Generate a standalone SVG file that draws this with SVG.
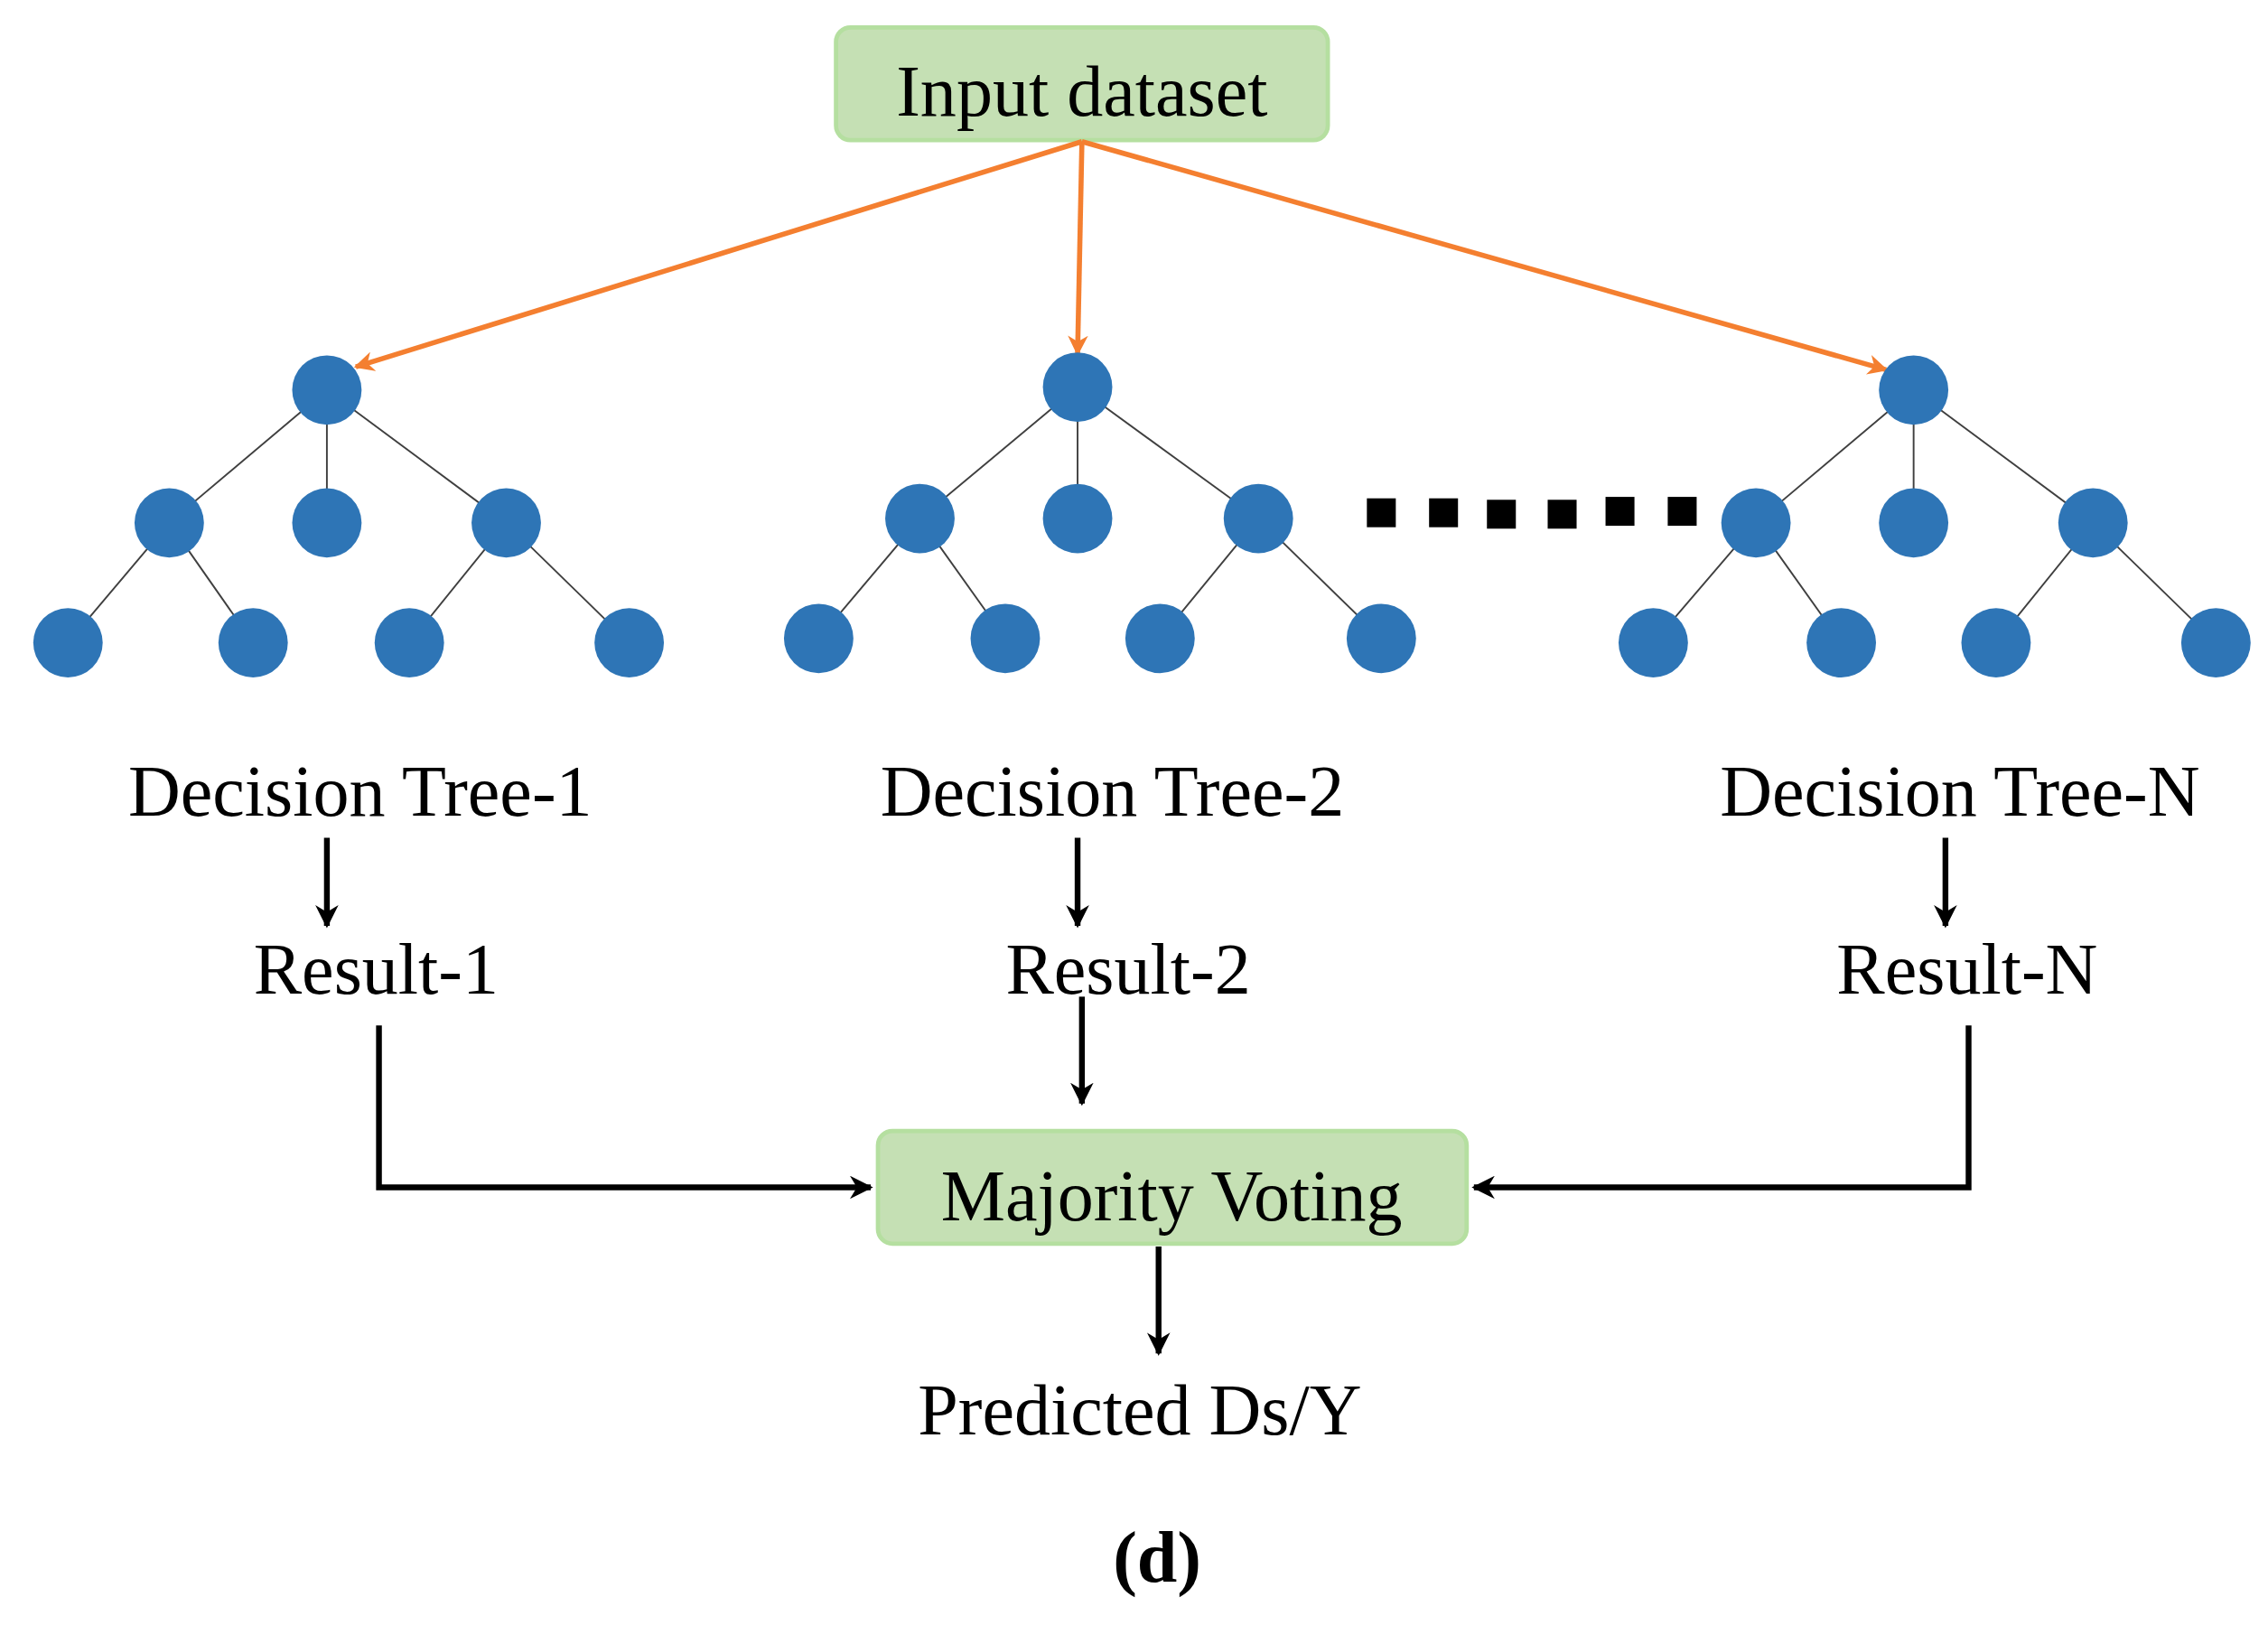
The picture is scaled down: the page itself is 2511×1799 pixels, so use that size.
<svg xmlns="http://www.w3.org/2000/svg" width="2511" height="1799" viewBox="0 0 2511 1799">
<style>
.t{font-family:"Liberation Serif","Times New Roman",serif;font-size:50px;fill:#000;text-anchor:middle}
.box{fill:#c5e0b4;stroke:#b5dfa0;stroke-width:3}
.n{fill:#2e75b6}
.e{stroke:#404040;stroke-width:1.2;fill:none}
.o{stroke:#f47f30;stroke-width:3.5;fill:none}
.k{stroke:#000;stroke-width:4;fill:none}
</style>
<defs>
<marker id="ao" viewBox="0 0 10 10" refX="9" refY="5" markerWidth="4" markerHeight="4" orient="auto"><path d="M0,0L10,5L0,10L3,5z" fill="#f47f30"/></marker>
<marker id="ak" viewBox="0 0 10 10" refX="9" refY="5" markerWidth="4" markerHeight="4" orient="auto"><path d="M0,0L10,5L0,10L3,5z" fill="#000"/></marker>
</defs>
<rect width="2511" height="1799" fill="#fff"/>
<g transform="scale(1.6014 1.5991)">
<g id="input"><rect class="box" x="578" y="19" width="340" height="78" rx="10"/><text class="t" x="748" y="80">Input dataset</text></g>
<g id="connectors">
<line class="o" x1="748" y1="98" x2="246" y2="254" marker-end="url(#ao)"/>
<line class="o" x1="748" y1="98" x2="745" y2="245" marker-end="url(#ao)"/>
<line class="o" x1="748" y1="98" x2="1304" y2="256" marker-end="url(#ao)"/>
<line class="k" x1="226" y1="580" x2="226" y2="641" marker-end="url(#ak)"/>
<line class="k" x1="745" y1="580" x2="745" y2="641" marker-end="url(#ak)"/>
<line class="k" x1="1345" y1="580" x2="1345" y2="641" marker-end="url(#ak)"/>
<line class="k" x1="748" y1="690" x2="748" y2="764" marker-end="url(#ak)"/>
<polyline class="k" points="262,710 262,822 602,822" marker-end="url(#ak)"/>
<polyline class="k" points="1361,710 1361,822 1019,822" marker-end="url(#ak)"/>
<line class="k" x1="801" y1="863" x2="801" y2="937" marker-end="url(#ak)"/>
</g>
<g id="tree1">
<path class="e" d="M226,270L117,362M226,270L226,362M226,270L350,362M117,362L47,445M117,362L175,445M350,362L283,445M350,362L435,445"/>
<ellipse class="n" cx="226" cy="270" rx="24" ry="24"/><ellipse class="n" cx="117" cy="362" rx="24" ry="24"/><ellipse class="n" cx="226" cy="362" rx="24" ry="24"/><ellipse class="n" cx="350" cy="362" rx="24" ry="24"/>
<ellipse class="n" cx="47" cy="445" rx="24" ry="24"/><ellipse class="n" cx="175" cy="445" rx="24" ry="24"/><ellipse class="n" cx="283" cy="445" rx="24" ry="24"/><ellipse class="n" cx="435" cy="445" rx="24" ry="24"/>
<text class="t" x="249" y="565">Decision Tree-1</text>
</g>
<g id="tree2">
<path class="e" d="M745,268L636,359M745,268L745,359M745,268L870,359M636,359L566,442M636,359L695,442M870,359L802,442M870,359L955,442"/>
<ellipse class="n" cx="745" cy="268" rx="24" ry="24"/><ellipse class="n" cx="636" cy="359" rx="24" ry="24"/><ellipse class="n" cx="745" cy="359" rx="24" ry="24"/><ellipse class="n" cx="870" cy="359" rx="24" ry="24"/>
<ellipse class="n" cx="566" cy="442" rx="24" ry="24"/><ellipse class="n" cx="695" cy="442" rx="24" ry="24"/><ellipse class="n" cx="802" cy="442" rx="24" ry="24"/><ellipse class="n" cx="955" cy="442" rx="24" ry="24"/>
<text class="t" x="769" y="565">Decision Tree-2</text>
</g>
<g id="treeN">
<path class="e" d="M1323,270L1214,362M1323,270L1323,362M1323,270L1447,362M1214,362L1143,445M1214,362L1273,445M1447,362L1380,445M1447,362L1532,445"/>
<ellipse class="n" cx="1323" cy="270" rx="24" ry="24"/><ellipse class="n" cx="1214" cy="362" rx="24" ry="24"/><ellipse class="n" cx="1323" cy="362" rx="24" ry="24"/><ellipse class="n" cx="1447" cy="362" rx="24" ry="24"/>
<ellipse class="n" cx="1143" cy="445" rx="24" ry="24"/><ellipse class="n" cx="1273" cy="445" rx="24" ry="24"/><ellipse class="n" cx="1380" cy="445" rx="24" ry="24"/><ellipse class="n" cx="1532" cy="445" rx="24" ry="24"/>
<text class="t" x="1355" y="565">Decision Tree-N</text>
</g>
<g id="dots" fill="#000">
<rect x="945" y="345" width="20" height="20"/><rect x="988" y="345" width="20" height="20"/><rect x="1028" y="346" width="20" height="20"/><rect x="1070" y="346" width="20" height="20"/><rect x="1110" y="344" width="20" height="20"/><rect x="1153" y="344" width="20" height="20"/>
</g>
<g id="r1"><text class="t" x="260" y="688">Result-1</text></g>
<g id="r2"><text class="t" x="780" y="688">Result-2</text></g>
<g id="rN"><text class="t" x="1360" y="688">Result-N</text></g>
<g id="vote"><rect class="box" x="607" y="783" width="407" height="78" rx="10"/><text class="t" x="810" y="845">Majority Voting</text></g>
<g id="pred"><text class="t" x="788" y="993">Predicted Ds/Y</text></g>
<g id="label"><text class="t" x="800" y="1095" font-weight="bold">(d)</text></g>
</g>
</svg>
